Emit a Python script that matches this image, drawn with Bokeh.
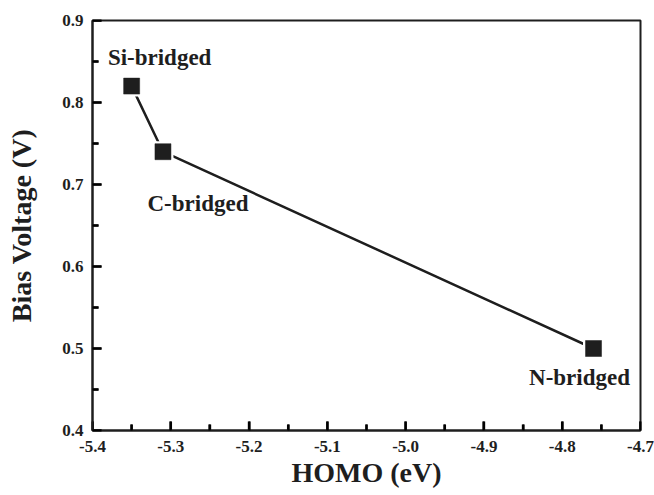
from bokeh.plotting import figure
from bokeh.models import Range1d, FixedTicker, ColumnDataSource
from bokeh.core.properties import value
from bokeh.embed import file_html
from bokeh.resources import INLINE

names = ["Si-bridged", "C-bridged", "N-bridged"]
homo = [-5.35, -5.31, -4.76]
bias = [0.82, 0.74, 0.50]
label_dx = [28, 35, -14]
label_dy = [-29, 52, 29]

x_ticks = [-5.4, -5.3, -5.2, -5.1, -5.0, -4.9, -4.8, -4.7]
x_tick_labels = ["-5.4", "-5.3", "-5.2", "-5.1", "-5.0", "-4.9", "-4.8", "-4.7"]
y_ticks = [0.4, 0.5, 0.6, 0.7, 0.8, 0.9]
y_tick_labels = ["0.4", "0.5", "0.6", "0.7", "0.8", "0.9"]

FONT = "Liberation Serif"
INK = "#1e1e1e"
FW, FH = 548, 410          # frame size in px
MAJ, MIN = 9, 6            # inward tick lengths in px

x0, x1 = x_ticks[0], x_ticks[-1]
y0, y1 = y_ticks[0], y_ticks[-1]

p = figure(frame_width=FW, frame_height=FH, output_backend="svg", toolbar_location=None,
           x_range=Range1d(x0, x1), y_range=Range1d(y0, y1),
           min_border_left=92, min_border_right=14, min_border_top=20, min_border_bottom=65)
p.background_fill_color = "white"
p.border_fill_color = "white"
p.outline_line_color = INK
p.outline_line_width = 2
p.grid.visible = False

dxpp = (x1 - x0) / FW
dypp = (y1 - y0) / FH
xminors = [(x_ticks[i] + x_ticks[i + 1]) / 2 for i in range(len(x_ticks) - 1)]
yminors = [(y_ticks[i] + y_ticks[i + 1]) / 2 for i in range(len(y_ticks) - 1)]

# inward ticks: segments starting 1px inside the frame edge
tick_x0, tick_y0, tick_x1, tick_y1 = [], [], [], []
for ticks, ln in ((x_ticks, MAJ), (xminors, MIN)):
    for t in ticks:
        tick_x0.append(t); tick_x1.append(t)
        tick_y0.append(y0 + 0.5 * dypp); tick_y1.append(y0 + ln * dypp)
for ticks, ln in ((y_ticks, MAJ), (yminors, MIN)):
    for t in ticks:
        tick_y0.append(t); tick_y1.append(t)
        tick_x0.append(x0 + 0.5 * dxpp); tick_x1.append(x0 + ln * dxpp)
p.segment(x0=tick_x0, y0=tick_y0, x1=tick_x1, y1=tick_y1,
          line_color="black", line_width=2.5, line_alpha=1.0)

src = ColumnDataSource(dict(x=homo, y=bias, name=names, dx=label_dx, dy=label_dy))
p.line("x", "y", source=src, line_color=INK, line_width=2.5)
p.scatter("x", "y", source=src, marker="square", size=17, fill_color=INK,
          line_color="white", line_width=4)
p.scatter("x", "y", source=src, marker="square", size=16, fill_color=INK,
          line_color=INK, line_width=0.5)
p.text("x", "y", text="name", source=src, x_offset="dx", y_offset="dy",
       text_font=value(FONT), text_font_style="bold", text_font_size="23px",
       text_align="center", text_baseline="middle", text_color=INK)

xa = p.xaxis[0]
ya = p.yaxis[0]
xa.ticker = FixedTicker(ticks=x_ticks, minor_ticks=xminors)
ya.ticker = FixedTicker(ticks=y_ticks, minor_ticks=yminors)
xa.major_label_overrides = dict(zip(x_ticks, x_tick_labels))
ya.major_label_overrides = dict(zip(y_ticks, y_tick_labels))

for ax in (xa, ya):
    ax.major_tick_in = MAJ
    ax.major_tick_out = 0
    ax.minor_tick_in = MIN
    ax.minor_tick_out = 0
    ax.major_tick_line_width = 2
    ax.minor_tick_line_width = 2
    ax.major_tick_line_color = "black"
    ax.minor_tick_line_color = "black"
    ax.axis_line_width = 2
    ax.axis_line_color = INK
    ax.major_label_text_font = FONT
    ax.major_label_text_font_style = "bold"
    ax.major_label_text_font_size = "17px"
    ax.major_label_text_color = INK
    ax.axis_label_text_font = FONT
    ax.axis_label_text_font_style = "bold"
    ax.axis_label_text_font_size = "28px"
    ax.axis_label_text_color = INK

p.xaxis.axis_label = "HOMO (eV)"
p.yaxis.axis_label = "Bias Voltage (V)"
p.xaxis.major_label_standoff = 10
p.yaxis.major_label_standoff = 9
p.xaxis.axis_label_standoff = 2
p.yaxis.axis_label_standoff = 22

open("out.html", "w").write(file_html(p, INLINE))
